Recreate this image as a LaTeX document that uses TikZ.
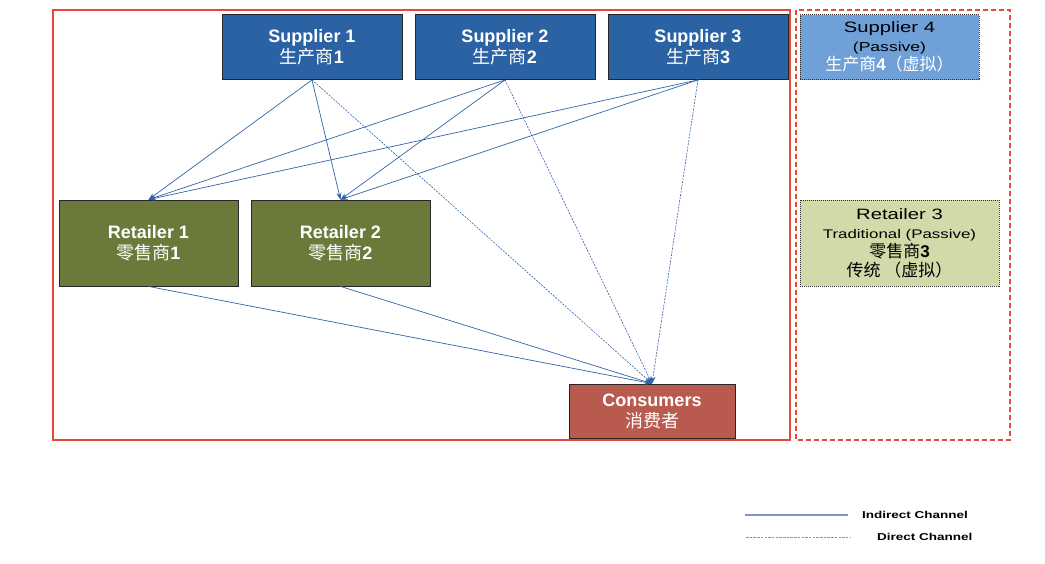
\documentclass[tikz,border=0pt]{standalone}
\usepackage{fontspec}
\usepackage{xcolor}
\setmainfont{Liberation Sans}
\newfontfamily\cjk{Noto Sans CJK SC}
\newfontfamily\widesans[FakeStretch=1.35]{Liberation Sans}
\usetikzlibrary{arrows.meta}
\definecolor{supplierblue}{RGB}{43,98,163}
\definecolor{passiveblue}{RGB}{111,160,216}
\definecolor{retailolive}{RGB}{107,122,58}
\definecolor{passiveolive}{RGB}{211,217,168}
\definecolor{consumerred}{RGB}{184,90,77}
\definecolor{framered}{RGB}{232,72,58}
\definecolor{channelblue}{RGB}{47,99,166}
\definecolor{legendblue}{RGB}{122,152,198}

\begin{document}
\begin{tikzpicture}[x=1pt, y=-1pt,
  entity/.style={draw=black!85, line width=0.8pt, align=center, inner sep=0pt},
  passive/.style={draw=black!80, line width=0.6pt, dash pattern=on 1pt off 1pt, align=center, inner sep=0pt},
  bigtext/.style={font=\fontsize{18}{21}\selectfont\bfseries, text=white},
  indirect/.style={channelblue, line width=0.7pt, -{Stealth[length=7pt,width=5pt]}},
  direct/.style={channelblue, line width=0.6pt, dash pattern=on 2pt off 1.2pt, -{Stealth[length=7pt,width=5pt]}}]
\useasboundingbox (0,0) rectangle (1045,563);
% frames
\draw[framered, line width=1.3pt] (53,10) rectangle (790,440);
\draw[framered, line width=1.3pt, dash pattern=on 5pt off 3pt] (796,10) rectangle (1010,440);
% suppliers and retailers
\foreach \i/\x in {1/312, 2/505, 3/698}
  \node[entity, bigtext, fill=supplierblue, minimum width=180pt, minimum height=65pt] (sup\i) at (\x,47) {Supplier \i\\{\cjk\mdseries 生产商}\i};
\foreach \i/\x in {1/148.5, 2/340.5}
  \node[entity, bigtext, fill=retailolive, minimum width=179pt, minimum height=86pt] (ret\i) at (\x,243) {Retailer \i\\{\cjk\mdseries 零售商}\i};
\node[entity, bigtext, fill=consumerred, minimum width=166pt, minimum height=54pt] (con) at (652,411) {Consumers\\{\cjk\mdseries 消费者}};
% passive players
\node[passive, fill=passiveblue, minimum width=179pt, minimum height=65pt, font=\fontsize{15}{19}\selectfont] (sup4) at (889.5,47)
  {{\widesans Supplier 4}\\{\widesans\fontsize{13}{15}\selectfont (Passive)}\\{\color{white}\fontsize{17}{19}\selectfont{\cjk 生产商}{\bfseries 4}{\cjk （虚拟）}}};
\node[passive, fill=passiveolive, minimum width=199pt, minimum height=86pt, font=\fontsize{15}{19}\selectfont] (ret3) at (899.5,243)
  {{\widesans Retailer 3}\\{\widesans\fontsize{12.5}{15}\selectfont Traditional (Passive)}\\{\fontsize{17}{19}\selectfont{\cjk 零售商}{\bfseries 3}}\\{\fontsize{17}{19}\selectfont\cjk 传统 （虚拟）}};
% channels
\foreach \i in {1,2,3} {
  \draw[indirect] (sup\i.south) -- (ret1.north);
  \draw[indirect] (sup\i.south) -- (ret2.north);
  \draw[direct] (sup\i.south) -- (con.north);
}
\foreach \i in {1,2}
  \draw[indirect] (ret\i.south) -- (con.north);
% legend
\coordinate (inda) at (745,515);
\coordinate (indb) at (848,515);
\coordinate (dira) at (746,537);
\coordinate (dirb) at (851,537);
\draw[legendblue, line width=1.2pt] (inda) -- (indb);
\draw[legendblue, line width=0.7pt, dash pattern=on 2.5pt off 1.2pt] (dira) -- (dirb);
\node[anchor=west, inner sep=0pt, font=\widesans\bfseries\fontsize{10}{12}\selectfont] (indlabel) at (862,515) {Indirect Channel};
\node[anchor=west, inner sep=0pt, font=\widesans\bfseries\fontsize{10}{12}\selectfont] (dirlabel) at (877,537) {Direct Channel};
\end{tikzpicture}
\end{document}
